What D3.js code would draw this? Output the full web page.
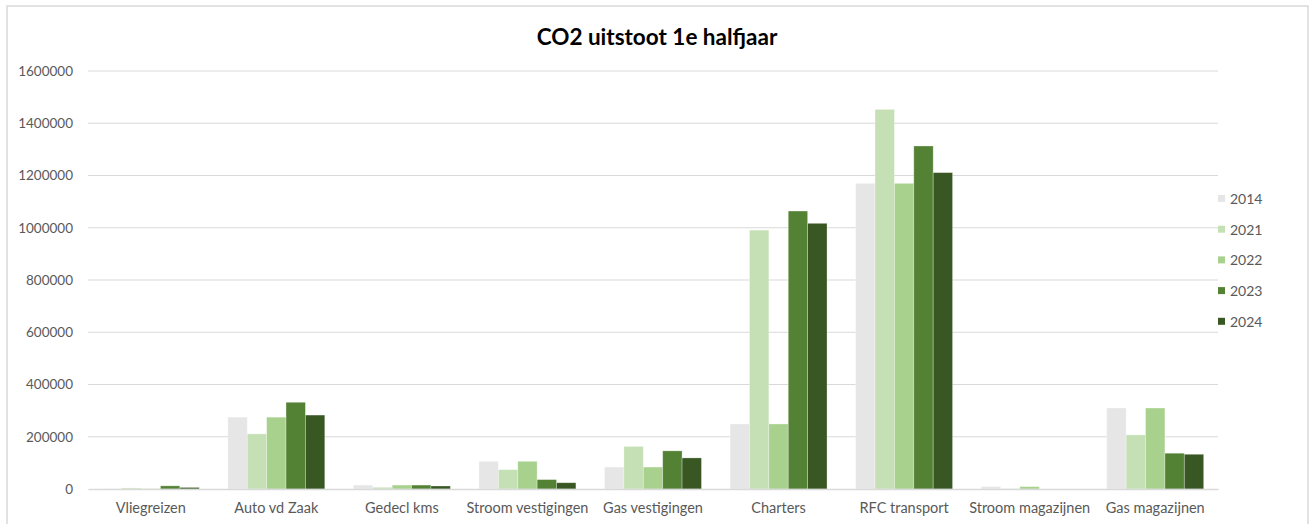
<!DOCTYPE html>
<html>
<head>
<meta charset="utf-8">
<script src="https://cdn.jsdelivr.net/npm/d3@7"></script>
<style>
  body { margin: 0; background: #fff; }
  svg { display: block; font-family: Lato, "Open Sans", sans-serif; }
</style>
</head>
<body>
<svg id="chart" width="1312" height="524"></svg>
<script>
// categories and series
var categories = ["Vliegreizen", "Auto vd Zaak", "Gedecl kms", "Stroom vestigingen", "Gas vestigingen",
  "Charters", "RFC transport", "Stroom magazijnen", "Gas magazijnen"];
var years = ["2014", "2021", "2022", "2023", "2024"];
var v2014 = [1000, 275000, 15000, 106000, 84000, 249000, 1170000, 9000, 310000];
var v2021 = [4000, 211000, 6500, 74000, 163000, 991000, 1453000, 1000, 207000];
var v2022 = [1000, 275000, 15000, 106000, 84000, 249000, 1170000, 9000, 310000];
var v2023 = [12000, 332000, 15000, 36000, 146000, 1064000, 1313000, 0, 137000];
var v2024 = [6000, 283000, 11500, 24000, 119000, 1017000, 1211000, 0, 133000];
var yTicks = [0, 200000, 400000, 600000, 800000, 1000000, 1200000, 1400000, 1600000];
var colors = ["#e7e6e6", "#c5e0b4", "#a9d18e", "#548235", "#385723"];

var series = [v2014, v2021, v2022, v2023, v2024];

var svg = d3.select("#chart");

// outer frame
svg.append("rect")
  .attr("x", 7).attr("y", 6).attr("width", 1301).attr("height", 530)
  .attr("fill", "none").attr("stroke", "#d9d9d9").attr("stroke-width", 1.5);

svg.append("text")
  .attr("x", 657).attr("y", 45)
  .attr("text-anchor", "middle")
  .attr("font-size", 22.5).attr("font-weight", "bold").attr("fill", "#000")
  .text("CO2 uitstoot 1e halfjaar");

var plotL = 88, plotR = 1218, plotT = 71, plotB = 489;

var x = d3.scaleBand().domain(categories).range([plotL, plotR]).paddingInner(0.228).paddingOuter(0.114);
var xs = d3.scaleBand().domain(years).range([0, x.bandwidth()]);
var y = d3.scaleLinear().domain([0, 1600000]).range([plotB, plotT]);

// gridlines
svg.append("g").selectAll("line").data(yTicks.slice(1)).enter().append("line")
  .attr("x1", plotL).attr("x2", plotR)
  .attr("y1", function(d) { return y(d); }).attr("y2", function(d) { return y(d); })
  .attr("stroke", "#d9d9d9").attr("stroke-width", 1);

// y axis labels
var yAxis = d3.axisLeft(y).tickValues(yTicks).tickSize(0).tickPadding(15).tickFormat(d3.format("d"));
var ya = svg.append("g").attr("transform", "translate(" + plotL + ",0)").call(yAxis);
ya.select(".domain").remove();
ya.selectAll("text").attr("font-size", 13.5).attr("fill", "#595959").attr("font-family", "Lato, sans-serif");

// bars
var groups = svg.append("g").selectAll("g").data(categories).enter().append("g")
  .attr("transform", function(d) { return "translate(" + x(d) + ",0)"; });

groups.selectAll("rect")
  .data(function(d, i) { return years.map(function(yr, j) { return { year: yr, value: series[j][i], c: j }; }); })
  .enter().append("rect")
  .attr("x", function(d) { return xs(d.year); })
  .attr("width", xs.bandwidth())
  .attr("y", function(d) { return y(d.value); })
  .attr("height", function(d) { return plotB - y(d.value); })
  .attr("fill", function(d) { return colors[d.c]; })
  .attr("stroke", "#fff").attr("stroke-opacity", 0.4).attr("stroke-width", 0.75);

// x axis
var xAxis = d3.axisBottom(x).tickSize(0).tickPadding(14);
var xa = svg.append("g").attr("transform", "translate(0," + plotB + ")").call(xAxis);
xa.select(".domain").attr("stroke", "#d9d9d9").attr("stroke-width", 1.5);
xa.selectAll("text").attr("font-size", 14.5).attr("fill", "#595959").attr("font-family", "Lato, sans-serif");

// legend
var legend = svg.append("g").selectAll("g").data(years).enter().append("g")
  .attr("transform", function(d, i) { return "translate(1218," + (199 + i * 30.7) + ")"; });
legend.append("rect").attr("x", 0).attr("y", -4).attr("width", 7).attr("height", 7)
  .attr("fill", function(d, i) { return colors[i]; });
legend.append("text").attr("x", 12).attr("y", 5)
  .attr("font-size", 14).attr("fill", "#595959").text(function(d) { return d; });
</script>
</body>
</html>
